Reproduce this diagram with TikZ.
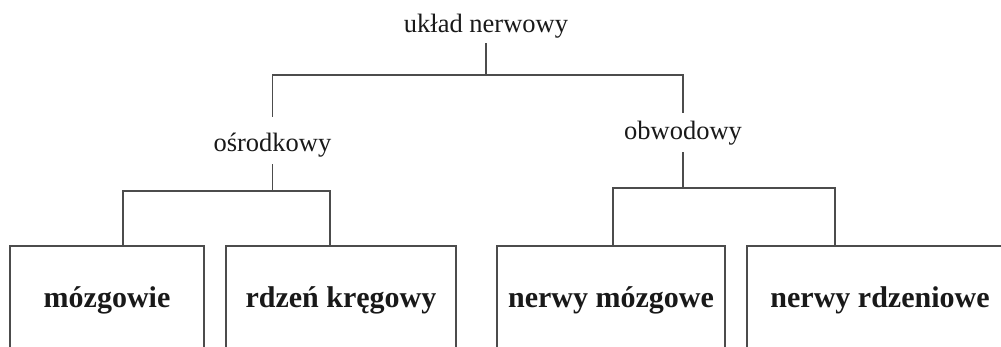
\documentclass[tikz,border=0pt]{standalone}
\usepackage{fontspec}
\setmainfont{Liberation Serif}
\begin{document}
\begin{tikzpicture}[x=1pt,y=-1pt,
  conn/.style={draw=black!70,line width=1.4pt},
  lbl/.style={inner sep=0pt,text=black!90,font=\fontsize{26.5}{28}\selectfont},
  leaf/.style={draw=black!70,line width=1.4pt,inner sep=0pt,minimum height=111pt,
    text height=20pt,text depth=7pt,text=black!90,font=\bfseries\fontsize{30}{32}\selectfont}]
\useasboundingbox (0,0) rectangle (1001,347);
\clip (0,0) rectangle (1001,347);
\fill[white] (0,0) rectangle (1001,347);
% labels
\node[lbl,text height=20pt,text depth=10pt] (root) at (486,28) {układ nerwowy};
\node[lbl,text height=35pt,text depth=12pt] (osr) at (272.5,140.5) {ośrodkowy};
\node[lbl,text height=27pt,text depth=12pt] (obw) at (683,132.5) {obwodowy};
% leaf boxes
\node[leaf,minimum width=194pt] (b1) at (107,301.5) {mózgowie};
\node[leaf,minimum width=230pt] (b2) at (341,301.5) {rdzeń kręgowy};
\node[leaf,minimum width=228pt] (b3) at (611,301.5) {nerwy mózgowe};
\node[leaf,minimum width=266pt] (b4) at (880,301.5) {nerwy rdzeniowe};
% junctions and attachment points
\coordinate (j1) at (486,75);
\coordinate (j2) at (272.5,191);
\coordinate (j3) at (683,188);
\coordinate (m1) at (123,246);
\coordinate (m2) at (330,246);
\coordinate (m3) at (613,246);
\coordinate (m4) at (835,246);
% connectors
\draw[conn] (root.south) -- (j1);
\draw[conn] (osr.north) |- (j1) -| (obw.north);
\draw[conn] (osr.south) -- (j2);
\draw[conn] (m1) |- (j2) -| (m2);
\draw[conn] (obw.south) -- (j3);
\draw[conn] (m3) |- (j3) -| (m4);
\end{tikzpicture}
\end{document}
